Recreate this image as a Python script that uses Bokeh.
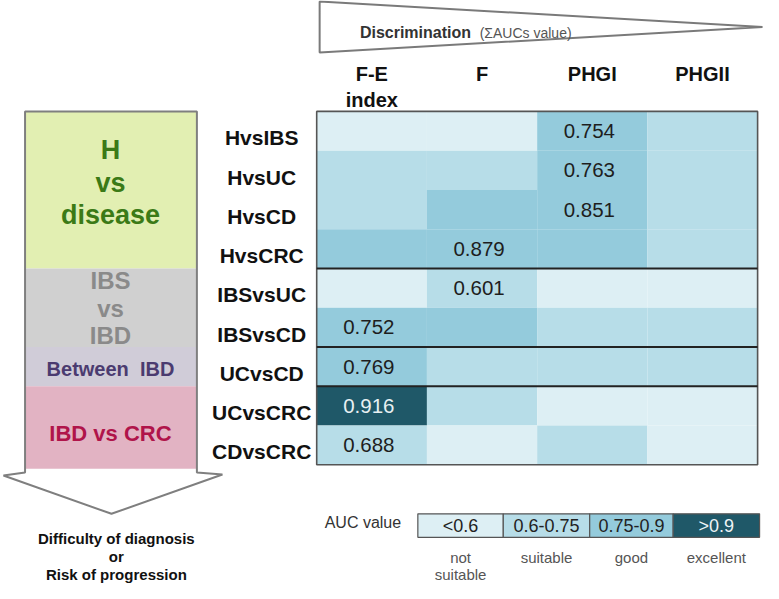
import numpy as np
from bokeh.plotting import figure
from bokeh.models import Range1d, ColumnDataSource
from bokeh.core.properties import value
from bokeh.embed import file_html
from bokeh.resources import INLINE

# ---------------- data ----------------
columns = ["F-E", "F", "PHGI", "PHGII"]
column_sub = ["index", "", "", ""]
rows = ["HvsIBS", "HvsUC", "HvsCD", "HvsCRC", "IBSvsUC",
        "IBSvsCD", "UCvsCD", "UCvsCRC", "CDvsCRC"]
# AUC class of each cell: 0 "<0.6", 1 "0.6-0.75", 2 "0.75-0.9", 3 ">0.9"
fe_class = [0, 1, 1, 2, 0, 2, 2, 3, 1]
f_class = [0, 1, 2, 2, 1, 2, 1, 1, 0]
phgi_class = [2, 2, 2, 2, 0, 1, 1, 0, 1]
phgii_class = [1, 1, 1, 1, 0, 1, 1, 0, 0]
# best AUC in each comparison and the column it belongs to
best_col = [2, 2, 2, 1, 1, 0, 0, 0, 0]
best_auc = [0.754, 0.763, 0.851, 0.879, 0.601, 0.752, 0.769, 0.916, 0.688]
class_labels = ["<0.6", "0.6-0.75", "0.75-0.9", ">0.9"]
class_desc = [["not", "suitable"], ["suitable"], ["good"], ["excellent"]]
group_lines = [["H", "vs", "disease"], ["IBS", "vs", "IBD"],
               ["Between\u00a0 IBD"], ["IBD vs CRC"]]
group_rows = [4, 2, 1, 2]

# ---------------- style / layout ----------------
FONT = value("Liberation Sans")
class_colors = ["#ddeff4", "#b7dde8", "#94cbdc", "#1f5868"]
group_fill = ["#e2efb2", "#d0d0d0", "#d0ccd8", "#e2b3c3"]
group_text = ["#3b7a16", "#8a8a8a", "#4b3b70", "#b0144a"]
group_size = ["27px", "24px", "20px", "22px"]
group_line_y = [[152, 186, 219], [285, 314, 341], [375], [441]]

HX0, CW = 324.0, 112.25   # heatmap left, column width
HY0, RH = 113.0, 40.0     # heatmap top, row height
ncol, nrow = len(columns), len(rows)

p = figure(width=763, height=583, output_backend="svg", toolbar_location=None,
           x_range=Range1d(2, 779), y_range=Range1d(594, 0), min_border=0,
           background_fill_color="white", border_fill_color="white")
p.axis.visible = False
p.grid.visible = False
p.outline_line_color = None

# ---------------- top triangle ----------------
p.patch([327, 778, 327], [1, 27, 53], fill_color="white",
        line_color="#7a7a7a", line_width=2)
p.text(x=[368], y=[33], text=["Discrimination"], text_font=FONT,
       text_font_style="bold", text_font_size="16px", text_color="#333333",
       text_baseline="middle", text_align="left")
p.text(x=[490], y=[33], text=["(\u03a3AUCs value)"], text_font=FONT,
       text_font_size="14px", text_color="#555555",
       text_baseline="middle", text_align="left")

# ---------------- column headers ----------------
col_x = HX0 + (np.arange(ncol) + 0.5) * CW
p.text(x=col_x, y=[75] * ncol, text=columns, text_font=FONT,
       text_font_style="bold", text_font_size="20px", text_color="#111111",
       text_align="center", text_baseline="middle")
sub_idx = [i for i, s in enumerate(column_sub) if s]
p.text(x=col_x[sub_idx], y=[101] * len(sub_idx),
       text=[column_sub[i] for i in sub_idx], text_font=FONT,
       text_font_style="bold", text_font_size="20px", text_color="#111111",
       text_align="center", text_baseline="middle")

# ---------------- heatmap cells ----------------
grid = np.array([fe_class, f_class, phgi_class, phgii_class]).T  # rows x cols
ri, ci = np.meshgrid(np.arange(nrow), np.arange(ncol), indexing="ij")
cells = ColumnDataSource(dict(
    left=HX0 + ci.ravel() * CW, right=HX0 + (ci.ravel() + 1) * CW,
    top=HY0 + ri.ravel() * RH, bottom=HY0 + (ri.ravel() + 1) * RH,
    color=[class_colors[c] for c in grid.ravel()]))
p.quad(left="left", right="right", top="top", bottom="bottom",
       fill_color="color", line_color=None, source=cells)

# values
bc = np.array(best_col)
vx = HX0 + (bc + 0.5) * CW - 3
vy = HY0 + (np.arange(nrow) + 0.5) * RH
vcol = ["#e8f0f2" if grid[r, best_col[r]] == 3 else "#1e1e1e" for r in range(nrow)]
p.text(x=vx, y=vy, text=["%.3f" % v for v in best_auc], text_font=FONT,
       text_font_size="20.5px", text_color=vcol, text_align="center",
       text_baseline="middle")

# border and group separators
HX1 = HX0 + ncol * CW
HY1 = HY0 + nrow * RH
p.quad(left=[HX0], right=[HX1], top=[HY0], bottom=[HY1], fill_color=None,
       line_color="#555555", line_width=1.6)
sep = HY0 + np.cumsum(group_rows)[:-1] * RH
p.segment(x0=[HX0] * len(sep), x1=[HX1] * len(sep), y0=sep, y1=sep,
          line_color="#222222", line_width=2)

# row labels
p.text(x=[268] * nrow, y=vy + 7, text=rows, text_font=FONT,
       text_font_style="bold", text_font_size="21px", text_color="#111111",
       text_align="center", text_baseline="middle")

# ---------------- left arrow ----------------
ax = [27, 202, 202, 228, 115, 5, 27]
ay = [113, 113, 481, 483, 523, 484, 481]
p.patch(ax, ay, fill_color="white", line_color=None)
gb = HY0 + np.concatenate([[0], np.cumsum(group_rows)]) * RH
gb[-1] += 4
p.quad(left=[27] * 4, right=[202] * 4, top=gb[:-1], bottom=gb[1:],
       fill_color=group_fill, line_color=None)
p.patch(ax, ay, fill_color=None, line_color="#7f7f7f", line_width=2)
for g, lines in enumerate(group_lines):
    p.text(x=[114] * len(lines), y=group_line_y[g], text=lines, text_font=FONT,
           text_font_style="bold", text_font_size=group_size[g],
           text_color=group_text[g], text_align="center",
           text_baseline="middle")

p.text(x=[120, 120, 120], y=[548, 566, 585],
       text=["Difficulty of diagnosis", "or", "Risk of progression"],
       text_font=FONT, text_font_style="bold", text_font_size="15px",
       text_color="#111111", text_align="center", text_baseline="middle")

# ---------------- legend ----------------
lx = np.array([427, 514, 602, 687, 775], dtype=float)
p.quad(left=lx[:-1], right=lx[1:], top=[523] * 4, bottom=[547] * 4,
       fill_color=class_colors, line_color="#555555", line_width=1.2)
lc = (lx[:-1] + lx[1:]) / 2
p.text(x=lc, y=[535] * 4, text=class_labels, text_font=FONT,
       text_font_size="18px",
       text_color=["#222222", "#222222", "#222222", "#eef4f6"],
       text_align="center", text_baseline="middle")
p.text(x=[410], y=[532], text=["AUC value"], text_font=FONT,
       text_font_size="16px", text_color="#333333", text_align="right",
       text_baseline="middle")
for i, d in enumerate(class_desc):
    p.text(x=[lc[i]] * len(d), y=[567, 585][:len(d)], text=d, text_font=FONT,
           text_font_size="15px", text_color="#555555", text_align="center",
           text_baseline="middle")

open("out.html", "w").write(file_html(p, INLINE))
